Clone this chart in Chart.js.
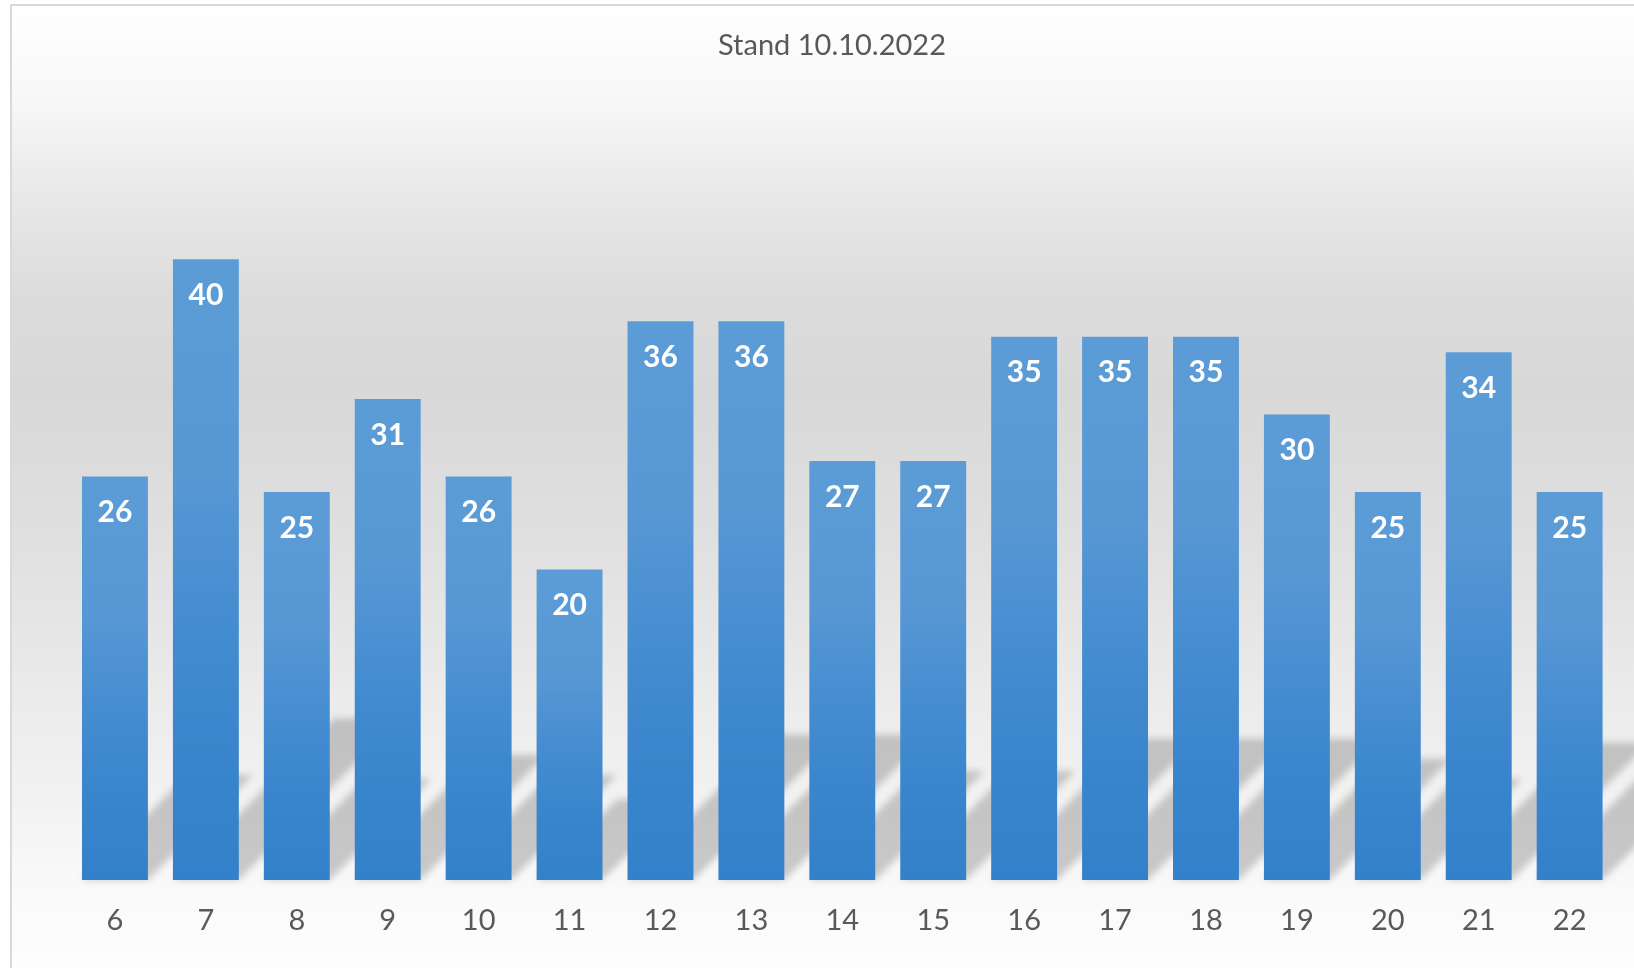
<!DOCTYPE html>
<html>
<head>
<meta charset="utf-8">
<script src="https://cdn.jsdelivr.net/npm/chart.js@4.4.0/dist/chart.umd.min.js"></script>
<style>
html,body{margin:0;padding:0;background:#ffffff;overflow:hidden;}
#wrap{width:1634px;height:968px;position:relative;}
canvas{display:block;}
</style>
</head>
<body>
<div id="wrap"><canvas id="c" width="1634" height="968"></canvas></div>
<script>
const categories = ['6','7','8','9','10','11','12','13','14','15','16','17','18','19','20','21','22'];
const values = [26,40,25,31,26,20,36,36,27,27,35,35,35,30,25,34,25];
const titleText = 'Stand 10.10.2022';
const yMin = 0;
const yMax = 45;

const FONT = 'Lato, Carlito, Calibri, "Open Sans", sans-serif';

const backgroundPlugin = {
  id: 'bgPanel',
  beforeDraw(chart) {
    const ctx = chart.ctx;
    const W = chart.width, H = chart.height;
    ctx.save();
    ctx.fillStyle = '#ffffff';
    ctx.fillRect(0, 0, W, H);
    const g = ctx.createLinearGradient(0, 5, 0, H);
    g.addColorStop(0.00, '#ffffff');
    g.addColorStop(0.10, '#f7f7f7');
    g.addColorStop(0.20, '#e8e8e8');
    g.addColorStop(0.30, '#dcdcdc');
    g.addColorStop(0.40, '#d8d8d8');
    g.addColorStop(0.56, '#e0e0e0');
    g.addColorStop(0.72, '#ebebeb');
    g.addColorStop(0.85, '#f4f4f4');
    g.addColorStop(0.93, '#fafafa');
    g.addColorStop(1.00, '#fdfdfd');
    ctx.fillStyle = g;
    ctx.fillRect(11, 6, W - 11, H - 6);
    ctx.strokeStyle = '#d9d9d9';
    ctx.lineWidth = 2;
    ctx.beginPath();
    ctx.moveTo(11, H);
    ctx.lineTo(11, 5);
    ctx.lineTo(W, 5);
    ctx.stroke();
    // title
    ctx.fillStyle = '#595959';
    ctx.font = '29px ' + FONT;
    ctx.textAlign = 'center';
    ctx.textBaseline = 'middle';
    ctx.fillText(titleText, 832, 45.5);
    ctx.restore();
  }
};

const shadowPlugin = {
  id: 'barShadows',
  beforeDatasetsDraw(chart) {
    const ctx = chart.ctx;
    const meta = chart.getDatasetMeta(0);
    ctx.save();
    ctx.filter = 'blur(3.5px)';
    ctx.fillStyle = 'rgba(90,90,90,0.30)';
    ctx.beginPath();
    meta.data.forEach((el) => {
      const p = el.getProps(['x', 'y', 'base', 'width'], true);
      const x0 = p.x - p.width / 2, x1 = p.x + p.width / 2;
      const h = p.base - p.y;
      const hs = 0.26 * h;
      ctx.moveTo(x0, p.base);
      ctx.lineTo(x1, p.base);
      ctx.lineTo(x1 + hs, p.base - hs);
      ctx.lineTo(x0 + hs, p.base - hs);
      ctx.closePath();
    });
    ctx.fill('nonzero');
    ctx.restore();
  }
};

const labelPlugin = {
  id: 'valueLabels',
  afterDatasetsDraw(chart) {
    const ctx = chart.ctx;
    const meta = chart.getDatasetMeta(0);
    const data = chart.data.datasets[0].data;
    ctx.save();
    ctx.fillStyle = '#ffffff';
    ctx.font = 'bold 30px ' + FONT;
    ctx.textAlign = 'center';
    ctx.textBaseline = 'middle';
    meta.data.forEach((el, i) => {
      const p = el.getProps(['x', 'y'], true);
      ctx.fillText(String(data[i]), p.x, p.y + 36);
    });
    ctx.restore();
  }
};

function barFill(context) {
  const chart = context.chart;
  const area = chart.chartArea;
  if (!area || context.type !== 'data' || !chart.scales.y) return '#4a90d0';
  const yTop = chart.scales.y.getPixelForValue(context.raw);
  const yBase = chart.scales.y.getPixelForValue(0);
  if (!isFinite(yTop) || !isFinite(yBase) || yBase - yTop < 1) return '#4a90d0';
  const g = chart.ctx.createLinearGradient(0, yTop, 0, yBase);
  g.addColorStop(0.00, '#5c9cd6');
  g.addColorStop(0.35, '#5797d4');
  g.addColorStop(0.55, '#478ed1');
  g.addColorStop(0.75, '#3b86cd');
  g.addColorStop(1.00, '#3381ca');
  return g;
}

new Chart(document.getElementById('c'), {
  type: 'bar',
  data: {
    labels: categories,
    datasets: [{
      data: values,
      backgroundColor: barFill,
      borderWidth: 0,
      barPercentage: 0.725,
      categoryPercentage: 1.0
    }]
  },
  options: {
    responsive: false,
    maintainAspectRatio: false,
    devicePixelRatio: 1,
    animation: false,
    layout: { padding: { left: 69.5, right: 18.9, top: 181.6, bottom: 6.0 } },
    plugins: {
      legend: { display: false },
      tooltip: { enabled: false },
      title: { display: false }
    },
    scales: {
      x: {
        offset: true,
        grid: { display: false, drawTicks: false, drawOnChartArea: false },
        border: { display: false },
        ticks: {
          color: '#595959',
          font: { family: FONT, size: 29, lineHeight: 1.2 },
          padding: 23.6,
          maxRotation: 0,
          autoSkip: false
        }
      },
      y: {
        display: false,
        min: yMin,
        max: yMax
      }
    }
  },
  plugins: [backgroundPlugin, shadowPlugin, labelPlugin]
});
</script>
</body>
</html>
